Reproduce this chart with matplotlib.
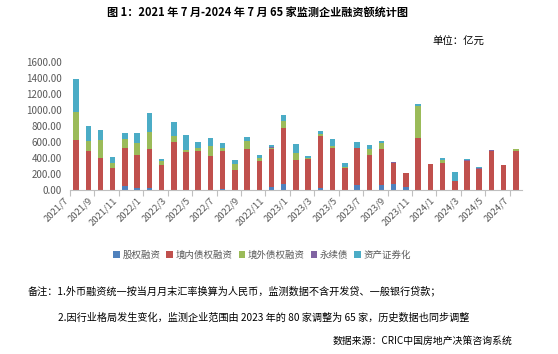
import matplotlib
matplotlib.use('Agg')
import matplotlib.pyplot as plt
import matplotlib.transforms as mtransforms
import numpy as np

plt.rcParams['font.family'] = ['Noto Sans CJK SC', 'DejaVu Sans']

# 月份
months = ['2021/7', '2021/8', '2021/9', '2021/10', '2021/11', '2021/12',
          '2022/1', '2022/2', '2022/3', '2022/4', '2022/5', '2022/6',
          '2022/7', '2022/8', '2022/9', '2022/10', '2022/11', '2022/12',
          '2023/1', '2023/2', '2023/3', '2023/4', '2023/5', '2023/6',
          '2023/7', '2023/8', '2023/9', '2023/10', '2023/11', '2023/12',
          '2024/1', '2024/2', '2024/3', '2024/4', '2024/5', '2024/6', '2024/7']

# 各类融资额（亿元）
equity = [0, 0, 0, 0, 54, 29, 25, 0, 0, 0, 0, 0, 15, 0, 0, 0, 42, 79,
          0, 0, 25, 0, 0, 63, 0, 63, 75, 38, 0, 0, 0, 0, 0, 0, 0, 0, 0]
domestic = [627, 489, 401, 276, 473, 410, 489, 318, 602, 481, 489, 426,
            474, 251, 514, 364, 472, 703, 376, 389, 656, 527, 276, 464,
            439, 451, 259, 175, 652, 326, 339, 113, 364, 263, 485, 314, 489]
overseas = [355, 125, 226, 67, 113, 150, 213, 46, 79, 25, 38, 126,
            38, 71, 100, 37, 10, 83, 88, 12, 25, 29, 12, 0,
            75, 75, 0, 0, 401, 0, 37, 0, 0, 0, 0, 0, 25]
perpetual = [0, 0, 0, 0, 0, 0, 0, 0, 0, 0, 0, 0, 0, 0, 0, 0, 11, 0,
             0, 0, 0, 0, 0, 0, 0, 0, 17, 0, 0, 0, 0, 0, 10, 10, 17, 0, 0]
abs_sec = [409, 193, 125, 71, 75, 126, 243, 25, 176, 184, 75, 100,
           62, 54, 55, 38, 29, 75, 113, 25, 34, 84, 55, 75,
           50, 25, 0, 0, 25, 0, 25, 113, 15, 15, 0, 0, 0]

series = [('股权融资', equity, '#4F81BD'),
          ('境内债权融资', domestic, '#C0504D'),
          ('境外债权融资', overseas, '#9BBB59'),
          ('永续债', perpetual, '#8064A2'),
          ('资产证券化', abs_sec, '#4BACC6')]

fig = plt.figure(figsize=(5.58, 3.54), dpi=100)
ax = fig.add_axes([0.1254, 0.4633, 0.810, 0.3607])

x = np.arange(len(months))
bottom = np.zeros(len(months))
for name, vals, color in series:
    vals = np.array(vals, dtype=float)
    ax.bar(x, vals, 0.45, bottom=bottom, color=color, label=name, zorder=2)
    bottom += vals

ax.set_xlim(-0.5, len(months) - 0.5)
ax.set_ylim(0, 1600)
ax.set_yticks(np.arange(0, 1601, 200))
ax.set_yticklabels(['%.2f' % v for v in np.arange(0, 1601, 200)],
                   fontsize=7, color='#595959')
ax.tick_params(axis='y', length=0, pad=6)

# 刻度线在分类边界，标签在柱子下方
ax.set_xticks(np.arange(-0.5, len(months), 2), minor=False)
ax.set_xticklabels([])
ax.tick_params(axis='x', length=4, color='#BFBFBF', direction='out')
offset = mtransforms.ScaledTranslation(-6 / 100, -6 / 100, fig.dpi_scale_trans)
for i in range(0, len(months), 2):
    ax.text(i, 0, months[i], rotation=45, ha='right', va='top',
            fontsize=6.8, color='#595959',
            transform=ax.get_xaxis_transform() + offset)

for s in ['top', 'right', 'left']:
    ax.spines[s].set_visible(False)
ax.spines['bottom'].set_color('#BFBFBF')

fig.text(0.462, 0.963, '图 1：2021 年 7 月-2024 年 7 月 65 家监测企业融资额统计图',
         ha='center', va='center', fontsize=8, fontweight='bold')
fig.text(0.868, 0.882, '单位：亿元', ha='right', va='center', fontsize=7.5)

ax.legend(loc='center', bbox_to_anchor=(0.47, 0.279), bbox_transform=fig.transFigure,
          ncol=5, fontsize=6.8, frameon=False, handlelength=0.7, handleheight=0.7,
          handletextpad=0.3, columnspacing=0.6, labelcolor='#595959')

fig.text(0.05, 0.178, '备注：1.外币融资统一按当月月末汇率换算为人民币，监测数据不含开发贷、一般银行贷款；',
         ha='left', va='center', fontsize=7.3)
fig.text(0.104, 0.103, '2.因行业格局发生变化，监测企业范围由 2023 年的 80 家调整为 65 家，历史数据也同步调整',
         ha='left', va='center', fontsize=7.3)
fig.text(0.918, 0.037, '数据来源：CRIC中国房地产决策咨询系统', ha='right', va='center', fontsize=7.1)

fig.savefig('out.png', dpi=100)
